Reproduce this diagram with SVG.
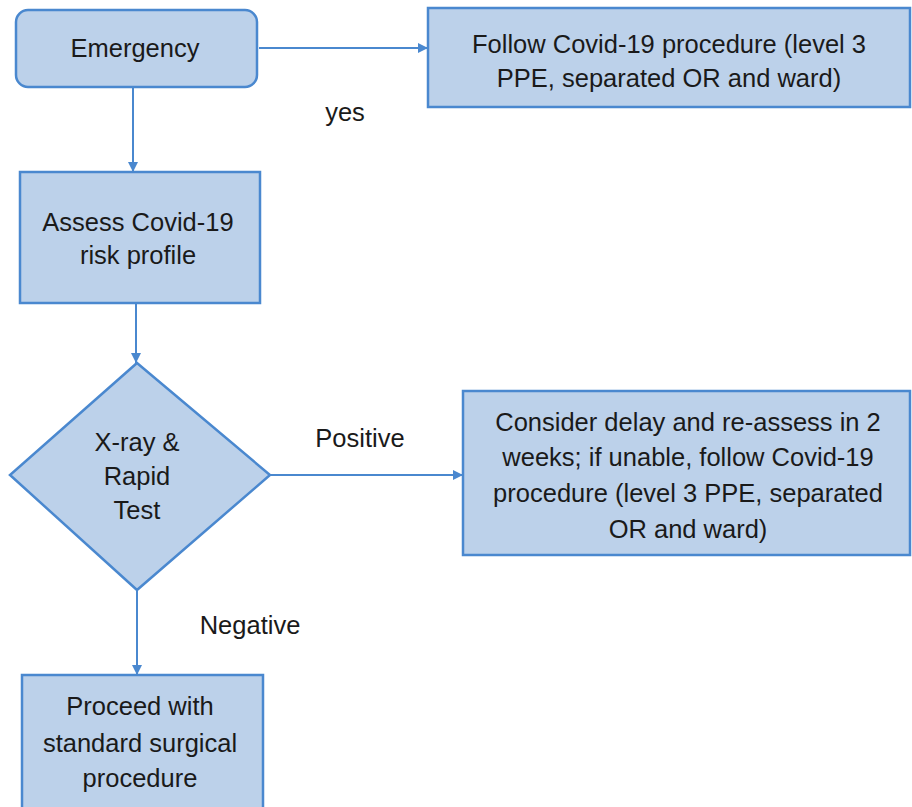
<svg xmlns="http://www.w3.org/2000/svg" width="912" height="807" viewBox="0 0 912 807">
<style>
.box{fill:#bcd1ea;stroke:#4a88cf;stroke-width:2.5}
.t{font-family:"Liberation Sans",Arial,sans-serif;font-size:25.5px;fill:#1a1a1a;text-anchor:middle}
.c{stroke:#4a88cf;stroke-width:2;fill:none}
</style>
<defs>
<marker id="ah" viewBox="0 0 10 10" refX="10" refY="5" markerWidth="5" markerHeight="5" orient="auto" markerUnits="strokeWidth">
<path d="M0,0 L10,5 L0,10 z" fill="#4a88cf"/>
</marker>
</defs>
<rect width="912" height="807" fill="#ffffff"/>
<g id="connectors">
<line class="c" x1="259" y1="48" x2="428" y2="48" marker-end="url(#ah)"/>
<line class="c" x1="133" y1="88" x2="133" y2="172" marker-end="url(#ah)"/>
<line class="c" x1="136" y1="303" x2="136" y2="363" marker-end="url(#ah)"/>
<line class="c" x1="270" y1="475" x2="463" y2="475" marker-end="url(#ah)"/>
<line class="c" x1="137" y1="590" x2="137" y2="675" marker-end="url(#ah)"/>
<text class="t" x="345" y="121">yes</text>
<text class="t" x="360" y="447">Positive</text>
<text class="t" x="250" y="634">Negative</text>
</g>
<g id="emergency">
<rect class="box" x="16" y="10" width="241" height="77" rx="12"/>
<text class="t" x="135" y="57">Emergency</text>
</g>
<g id="follow">
<rect class="box" x="428" y="8" width="482" height="99"/>
<text class="t" x="669" y="53">Follow Covid-19 procedure (level 3</text>
<text class="t" x="669" y="87">PPE, separated OR and ward)</text>
</g>
<g id="assess">
<rect class="box" x="20" y="172" width="240" height="131"/>
<text class="t" x="138" y="231">Assess Covid-19</text>
<text class="t" x="138" y="264">risk profile</text>
</g>
<g id="test">
<polygon class="box" points="137,363 270,475 137,590 10,475"/>
<text class="t" x="137" y="451">X-ray &amp;</text>
<text class="t" x="137" y="485">Rapid</text>
<text class="t" x="137" y="519">Test</text>
</g>
<g id="consider">
<rect class="box" x="463" y="391" width="447" height="164"/>
<text class="t" x="688" y="431">Consider delay and re-assess in 2</text>
<text class="t" x="688" y="466">weeks; if unable, follow Covid-19</text>
<text class="t" x="688" y="502">procedure (level 3 PPE, separated</text>
<text class="t" x="688" y="538">OR and ward)</text>
</g>
<g id="proceed">
<rect class="box" x="22" y="675" width="241" height="140"/>
<text class="t" x="140" y="715">Proceed with</text>
<text class="t" x="140" y="752">standard surgical</text>
<text class="t" x="140" y="787">procedure</text>
</g>
</svg>
